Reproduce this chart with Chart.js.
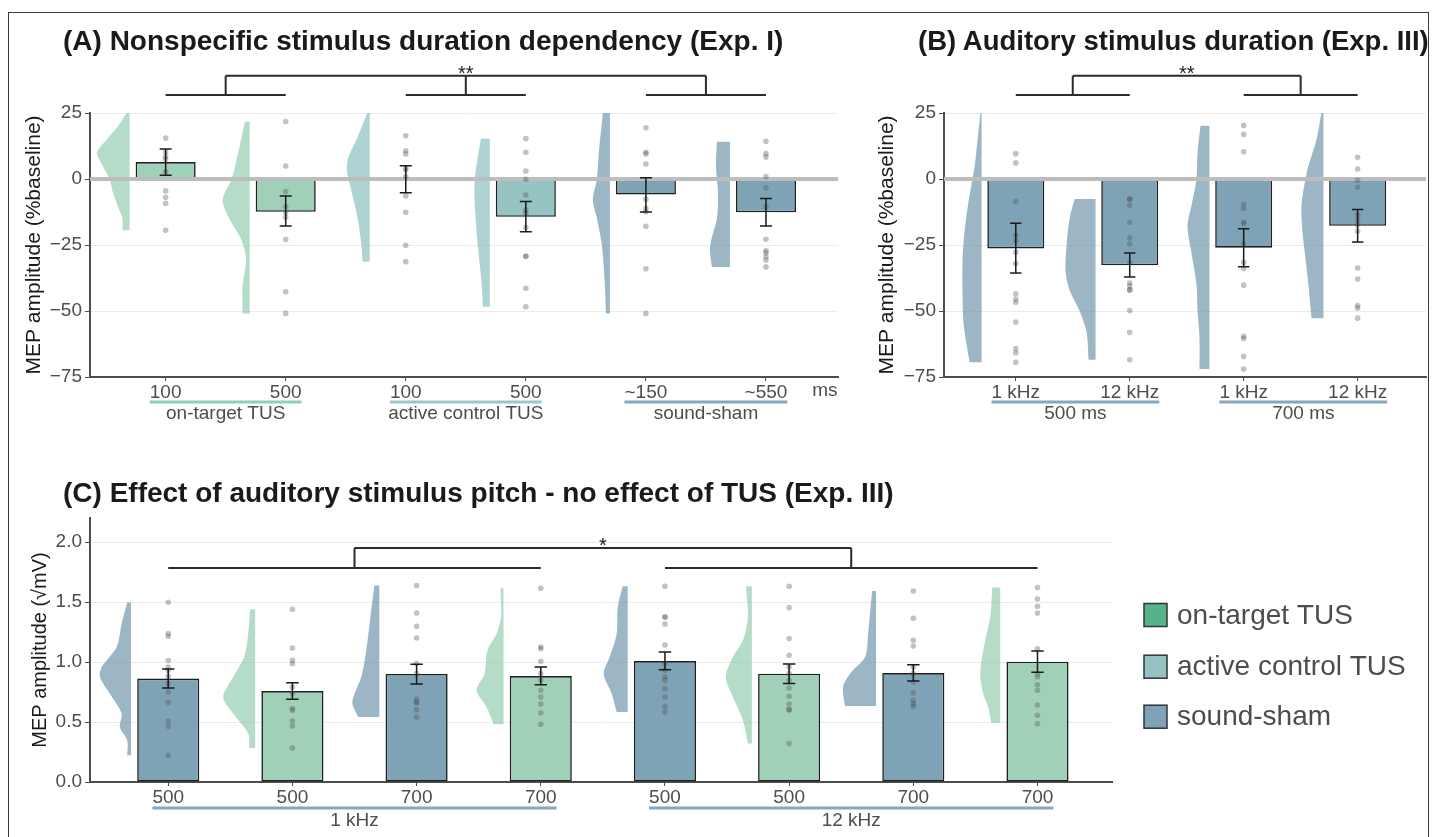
<!DOCTYPE html>
<html>
<head>
<meta charset="utf-8">
<script src="https://cdn.jsdelivr.net/npm/chart.js@4.4.1/dist/chart.umd.min.js"></script>
<style>
  body { margin: 0; width: 1434px; height: 837px; overflow: hidden; background: #fff; position: relative; }
  .frame { position: absolute; left: 8px; top: 12px; width: 1419px; height: 900px; border: 1.5px solid #3a3a3a; border-bottom: none; }
  canvas { position: absolute; }
  .ttl { position: absolute; font: bold 28px/28px "Liberation Sans", Arial, sans-serif; color: #1a1a1a; white-space: nowrap; }
</style>
</head>
<body>
<div class="frame"></div>
<canvas id="chartA" width="845" height="440" style="left:0px;top:0px"></canvas>
<canvas id="chartB" width="574" height="440" style="left:860px;top:0px"></canvas>
<canvas id="chartC" width="1434" height="367" style="left:0px;top:470px"></canvas>
<div class="ttl" style="left:63px;top:27px">(A) Nonspecific stimulus duration dependency (Exp. I)</div>
<div class="ttl" style="left:918px;top:27px;font-size:27.5px">(B) Auditory stimulus duration (Exp. III)</div>
<div class="ttl" style="left:63px;top:479px">(C) Effect of auditory stimulus pitch - no effect of TUS (Exp. III)</div>
<script>
// ---- data: panel A (Exp. I) ----
const catsA = ['100', '500', '100', '500', '~150', '~550'];
const condA = ['on', 'on', 'ac', 'ac', 'sh', 'sh'];
const meanA = [6.4, -12.4, 0.3, -14.3, -5.9, -12.6];
const loA = [1.4, -17.8, -5.2, -20.0, -12.5, -17.8];
const hiA = [11.4, -6.4, 5.0, -8.5, 0.5, -7.4];
const ptsA = [
  [15.5, 10.2, 8.5, 7.5, 2.8, -4.5, -6.9, -9.2, -19.4],
  [21.8, 4.9, -4.8, -10.5, -12.8, -14.5, -22.9, -42.7, -50.9],
  [16.4, 10.7, 9.5, 4.2, 3.4, 0.9, -6.4, -12.6, -25.1, -31.3],
  [15.3, 10.1, 3.0, -0.1, -6.1, -11.7, -13, -18.4, -29.3, -29.3, -41.4, -48.4],
  [19.4, 10.1, 9.5, 5.7, -7.7, -11.1, -12.4, -17.9, -34, -50.9],
  [14.3, 9.6, 8.3, 0.9, -3.3, -10.5, -22.8, -27.2, -27.9, -29.4, -30.7, -33.3]
];
// half-violin profiles: [value, half width in category units]
const violA = [
  [[25, 0.025], [19.8, 0.10], [15, 0.19], [10, 0.27], [5, 0.225], [0, 0.167], [-5, 0.14], [-10, 0.10], [-15, 0.06], [-19.4, 0.06]],
  [[21.8, 0.04], [7, 0.11], [0, 0.15], [-8, 0.225], [-15, 0.17], [-23, 0.07], [-30.5, 0.03], [-40.6, 0.06], [-48, 0.06], [-50.9, 0.06]],
  [[25, 0.02], [15, 0.11], [8, 0.18], [3, 0.19], [-5, 0.15], [-15, 0.10], [-25, 0.07], [-31.3, 0.06]],
  [[15.2, 0.075], [0, 0.125], [-10, 0.125], [-25, 0.10], [-40, 0.067], [-48.4, 0.058]],
  [[25, 0.058], [10, 0.092], [0, 0.108], [-8, 0.142], [-15, 0.108], [-25, 0.067], [-40, 0.042], [-50.9, 0.033]],
  [[14.1, 0.108], [5, 0.117], [-5, 0.10], [-15, 0.108], [-22, 0.15], [-27, 0.167], [-33.3, 0.15]]
];

// ---- data: panel B (Exp. III, duration) ----
const catsB = ['1 kHz', '12 kHz', '1 kHz', '12 kHz'];
const condB = ['sh', 'sh', 'sh', 'sh'];
const meanB = [-26.3, -32.7, -26.0, -17.7];
const loB = [-35.6, -37.1, -33.2, -23.9];
const hiB = [-16.8, -28.0, -18.8, -11.6];
const ptsB = [
  [9.6, 6.1, -8.4, -21.3, -23.3, -27.7, -32, -43.5, -45.5, -46.7, -54.2, -64.2, -65.8, -69.4],
  [-7.6, -7.6, -9.9, -16.4, -22.3, -24.6, -31.7, -39.4, -40.5, -42, -42, -49.8, -58.1, -68.5],
  [20.3, 16.9, 10.3, -9.6, -11.1, -16.3, -16.9, -24.5, -31.6, -33.9, -40.2, -59.6, -60.4, -67.2, -72.0],
  [8.2, 3.8, -0.5, -3.1, -13.5, -15.4, -17.3, -19.8, -33.7, -37.9, -47.9, -48.9, -52.7]
];
const violB = [
  [[25, 0.01], [15, 0.035], [5, 0.06], [0, 0.08], [-10, 0.12], [-20, 0.15], [-30, 0.167], [-45, 0.167], [-55, 0.158], [-65, 0.123], [-69.4, 0.105]],
  [[-7.6, 0.184], [-15, 0.228], [-25, 0.254], [-35, 0.263], [-42, 0.228], [-50, 0.14], [-58, 0.079], [-68.5, 0.061]],
  [[20.2, 0.079], [10, 0.105], [0, 0.114], [-10, 0.158], [-18, 0.193], [-28, 0.158], [-40, 0.114], [-50, 0.105], [-60, 0.088], [-72, 0.088]],
  [[25, 0.018], [15, 0.061], [5, 0.132], [0, 0.158], [-10, 0.193], [-20, 0.184], [-30, 0.158], [-40, 0.132], [-52.7, 0.105]]
];

// ---- data: panel C (Exp. III, pitch) ----
const catsC = ['500', '500', '700', '700', '500', '500', '700', '700'];
const condC = ['sh', 'on', 'sh', 'on', 'sh', 'on', 'sh', 'on'];
const meanC = [0.862, 0.758, 0.900, 0.883, 1.008, 0.903, 0.908, 1.003];
const loC = [0.783, 0.689, 0.817, 0.811, 0.936, 0.820, 0.842, 0.914];
const hiC = [0.942, 0.828, 0.981, 0.958, 1.083, 0.983, 0.978, 1.092];
const ptsC = [
  [1.497, 1.237, 1.214, 1.012, 0.958, 0.931, 0.881, 0.82, 0.75, 0.662, 0.508, 0.464, 0.222],
  [1.439, 1.117, 1.014, 0.986, 0.792, 0.737, 0.612, 0.597, 0.508, 0.467, 0.283],
  [1.637, 1.408, 1.297, 1.2, 0.987, 0.903, 0.689, 0.662, 0.662, 0.603, 0.542],
  [1.614, 1.125, 1.111, 1.006, 0.903, 0.847, 0.764, 0.708, 0.65, 0.575, 0.481],
  [1.631, 1.375, 1.375, 1.317, 1.142, 0.987, 0.931, 0.875, 0.847, 0.778, 0.708, 0.631, 0.583],
  [1.631, 1.453, 1.195, 1.056, 0.958, 0.903, 0.847, 0.783, 0.714, 0.65, 0.603, 0.603, 0.32],
  [1.592, 1.364, 1.181, 1.133, 0.958, 0.903, 0.833, 0.742, 0.681, 0.653, 0.631],
  [1.62, 1.525, 1.464, 1.408, 1.111, 0.903, 0.875, 0.811, 0.764, 0.642, 0.556, 0.486]
];
const violC = [
  [[1.495, 0.03], [1.32, 0.075], [1.125, 0.115], [0.958, 0.235], [0.875, 0.25], [0.736, 0.17], [0.57, 0.075], [0.458, 0.09], [0.347, 0.03], [0.222, 0.03]],
  [[1.439, 0.04], [1.236, 0.056], [1.042, 0.089], [0.875, 0.177], [0.708, 0.258], [0.57, 0.177], [0.403, 0.056], [0.283, 0.048]],
  [[1.637, 0.04], [1.375, 0.072], [1.1, 0.105], [0.875, 0.145], [0.736, 0.2], [0.653, 0.217], [0.542, 0.17]],
  [[1.614, 0.025], [1.375, 0.02], [1.236, 0.056], [1.1, 0.129], [0.903, 0.153], [0.764, 0.217], [0.625, 0.137], [0.481, 0.08]],
  [[1.631, 0.04], [1.458, 0.08], [1.236, 0.089], [1.042, 0.145], [0.903, 0.193], [0.736, 0.129], [0.583, 0.089]],
  [[1.631, 0.048], [1.375, 0.032], [1.181, 0.072], [1.042, 0.153], [0.875, 0.21], [0.708, 0.153], [0.514, 0.072], [0.32, 0.032]],
  [[1.592, 0.032], [1.236, 0.064], [1.042, 0.089], [0.903, 0.21], [0.792, 0.266], [0.633, 0.25]],
  [[1.62, 0.064], [1.375, 0.08], [1.181, 0.121], [0.903, 0.161], [0.736, 0.137], [0.625, 0.097], [0.494, 0.072]]
];

const legendLabels = ['on-target TUS', 'active control TUS', 'sound-sham'];

// colours
const barCol = { on: '#a0d0b8', ac: '#96c4c4', sh: '#7fa3b6' };
const violCol = { on: 'rgba(130,196,164,0.6)', ac: 'rgba(130,187,187,0.65)', sh: 'rgba(110,147,170,0.68)' };
const keyCol = { on: '#55b38a', ac: '#95c3c3', sh: '#7fa3b6' };
const lineCol = { on: '#8fcfb2', ac: '#9ac7c9', sh: '#86a8bc' };

Chart.defaults.font.family = '"Liberation Sans", Arial, sans-serif';
Chart.defaults.color = '#4d4d4d';
Chart.defaults.animation = false;

// half violin: flat right edge sits 0.3 units left of the category;
// first and last profile points are doubled so the flat ends stay straight
function violinData(i, prof) {
  const edge = i - 0.3;
  const last = prof.length - 1;
  const pts = [{ x: edge, y: prof[0][0] }];
  prof.forEach(([v, w], k) => {
    pts.push({ x: edge - w, y: v });
    if (k === 0 || k === last) pts.push({ x: edge - w, y: v });
  });
  pts.push({ x: edge, y: prof[last][0] });
  return pts;
}

const extras = {
  id: 'extras',
  afterDatasetsDraw(chart, args, o) {
    const { ctx, chartArea: ca, scales: { x, y } } = chart;
    ctx.save();
    // error bars
    ctx.strokeStyle = '#1a1a1a';
    ctx.lineWidth = 1.5;
    o.lo.forEach((lo, i) => {
      const px = x.getPixelForValue(i);
      const c = x.getPixelForValue(i + 0.05) - px;
      const y0 = y.getPixelForValue(lo), y1 = y.getPixelForValue(o.hi[i]);
      ctx.beginPath();
      ctx.moveTo(px, y0); ctx.lineTo(px, y1);
      ctx.moveTo(px - c, y0); ctx.lineTo(px + c, y0);
      ctx.moveTo(px - c, y1); ctx.lineTo(px + c, y1);
      ctx.stroke();
    });
    // significance brackets
    const b = o.brackets;
    const yl = y.getPixelForValue(b.low), yh = y.getPixelForValue(b.high);
    ctx.strokeStyle = '#2b2b2b';
    ctx.lineWidth = 2;
    ctx.beginPath();
    b.pairs.forEach(([a, c]) => { ctx.moveTo(x.getPixelForValue(a), yl); ctx.lineTo(x.getPixelForValue(c), yl); });
    ctx.moveTo(x.getPixelForValue(b.span[0]), yh); ctx.lineTo(x.getPixelForValue(b.span[1]), yh);
    b.drops.forEach(d => { ctx.moveTo(x.getPixelForValue(d), yh); ctx.lineTo(x.getPixelForValue(d), yl); });
    ctx.stroke();
    ctx.fillStyle = '#1a1a1a';
    ctx.font = '20px "Liberation Sans", Arial, sans-serif';
    ctx.textAlign = 'center';
    ctx.textBaseline = 'alphabetic';
    ctx.fillText(b.star, x.getPixelForValue(b.starAt), yh + 4);
    // group underlines and labels
    ctx.font = '19px "Liberation Sans", Arial, sans-serif';
    ctx.textBaseline = 'middle';
    ctx.lineWidth = 3;
    o.groups.forEach(g => {
      const x0 = x.getPixelForValue(g.from) - ctx.measureText(o.cats[g.from]).width / 2;
      const x1 = x.getPixelForValue(g.to) + ctx.measureText(o.cats[g.to]).width / 2;
      ctx.strokeStyle = g.color;
      ctx.beginPath();
      ctx.moveTo(x0, ca.bottom + o.lineGap); ctx.lineTo(x1, ca.bottom + o.lineGap);
      ctx.stroke();
      ctx.fillStyle = '#4d4d4d';
      ctx.fillText(g.label, (x0 + x1) / 2, ca.bottom + o.labelGap);
    });
    if (o.unit) ctx.fillText(o.unit.text, x.getPixelForValue(o.unit.at), ca.bottom + o.unitGap);
    // legend
    if (o.legend) {
      const L = o.legend;
      ctx.font = '28px "Liberation Sans", Arial, sans-serif';
      ctx.textAlign = 'left';
      L.labels.forEach((t, i) => {
        ctx.fillStyle = keyCol[L.cond[i]];
        ctx.fillRect(L.x, L.ys[i] - 11.5, 23, 23);
        ctx.strokeStyle = '#333';
        ctx.lineWidth = 1.5;
        ctx.strokeRect(L.x, L.ys[i] - 11.5, 23, 23);
        ctx.fillStyle = '#4d4d4d';
        ctx.fillText(t, L.x + 33, L.ys[i] + 1);
      });
    }
    ctx.restore();
  }
};

function panel(id, o) {
  const n = o.cats.length;
  const xmax = n - 0.4;
  const datasets = [];
  o.viol.forEach((prof, i) => datasets.push({
    type: 'line', data: violinData(i, prof), fill: 'shape',
    backgroundColor: violCol[o.cond[i]], borderColor: 'rgba(0,0,0,0)', borderWidth: 0,
    pointRadius: 0, tension: 0.3, order: 5
  }));
  datasets.push({
    type: 'bar', data: o.mean.map((m, i) => ({ x: i, y: m })),
    backgroundColor: o.cond.map(c => barCol[c]), borderColor: '#1f1f1f', borderWidth: 1.6,
    borderSkipped: false, barPercentage: 0.5, categoryPercentage: 1, order: 4
  });
  if (o.zero) datasets.push({
    type: 'line', data: [{ x: -0.63, y: 0 }, { x: xmax, y: 0 }],
    borderColor: '#bdbdbd', borderWidth: 4, pointRadius: 0, order: 3
  });
  datasets.push({
    type: 'scatter', data: o.pts.flatMap((a, i) => a.map(v => ({ x: i, y: v }))),
    pointRadius: 2.8, backgroundColor: 'rgba(80,80,80,0.35)', borderWidth: 0, order: 1
  });

  new Chart(document.getElementById(id), {
    type: 'bar',
    data: { datasets },
    plugins: [extras],
    options: {
      responsive: false,
      layout: { padding: o.pad },
      plugins: {
        legend: { display: false },
        tooltip: { enabled: false },
        extras: o.extras
      },
      scales: {
        x: {
          type: 'linear', min: -0.63, max: xmax, offset: false,
          afterBuildTicks: s => { s.ticks = o.cats.map((c, i) => ({ value: i })); },
          afterFit: s => { s.height = o.xh; },
          ticks: { callback: v => o.cats[v], font: { size: 19 }, color: '#4d4d4d', padding: 0, maxRotation: 0, autoSkip: false },
          grid: { drawOnChartArea: false, offset: false, tickColor: '#4d4d4d', tickLength: 4 },
          border: { color: '#4d4d4d', width: 2 }
        },
        y: {
          min: o.ymin, max: o.ymax,
          afterFit: s => { s.width = o.yw; },
          ticks: { stepSize: o.step, includeBounds: false, font: { size: 19 }, color: '#4d4d4d', padding: 3, callback: o.fmt },
          grid: { color: c => (c.tick && c.tick.value === 0) ? 'rgba(0,0,0,0)' : '#ebebeb', tickColor: '#4d4d4d', tickLength: 5 },
          border: { color: '#4d4d4d', width: 2 },
          title: { display: true, text: o.ytitle, font: { size: o.ytsize }, color: '#1a1a1a' }
        }
      }
    }
  });
}

const pctFmt = v => (v < 0 ? '\u2212' : '') + Math.abs(v);

panel('chartA', {
  cats: catsA, cond: condA, mean: meanA, pts: ptsA, viol: violA, zero: true,
  ymin: -75, ymax: 25, step: 25, fmt: pctFmt, ytitle: 'MEP amplitude (%baseline)', ytsize: 21,
  pad: { left: 18, top: 113, right: 7, bottom: 0 }, yw: 72, xh: 63,
  extras: {
    cats: catsA, lo: loA, hi: hiA, lineGap: 25, labelGap: 37, unitGap: 14,
    unit: { text: 'ms', at: 5.49 },
    groups: [
      { label: 'on-target TUS', from: 0, to: 1, color: lineCol.on },
      { label: 'active control TUS', from: 2, to: 3, color: lineCol.ac },
      { label: 'sound-sham', from: 4, to: 5, color: lineCol.sh }
    ],
    brackets: { low: 31.8, high: 39.1, pairs: [[0, 1], [2, 3], [4, 5]], span: [0.5, 4.5], drops: [0.5, 2.5, 4.5], star: '**', starAt: 2.5 }
  }
});

panel('chartB', {
  cats: catsB, cond: condB, mean: meanB, pts: ptsB, viol: violB, zero: true,
  ymin: -75, ymax: 25, step: 25, fmt: pctFmt, ytitle: 'MEP amplitude (%baseline)', ytsize: 21,
  pad: { left: 11, top: 113, right: 8, bottom: 0 }, yw: 73, xh: 63,
  extras: {
    cats: catsB, lo: loB, hi: hiB, lineGap: 25, labelGap: 37,
    groups: [
      { label: '500 ms', from: 0, to: 1, color: lineCol.sh },
      { label: '700 ms', from: 2, to: 3, color: lineCol.sh }
    ],
    brackets: { low: 31.8, high: 39.1, pairs: [[0, 1], [2, 3]], span: [0.5, 2.5], drops: [0.5, 2.5], star: '**', starAt: 1.5 }
  }
});

panel('chartC', {
  cats: catsC, cond: condC, mean: meanC, pts: ptsC, viol: violC, zero: false,
  ymin: 0, ymax: 2.2, step: 0.5, fmt: v => v.toFixed(1), ytitle: 'MEP amplitude (\u221AmV)', ytsize: 20,
  pad: { left: 24, top: 48, right: 322, bottom: 0 }, yw: 66, xh: 55,
  extras: {
    cats: catsC, lo: loC, hi: hiC, lineGap: 26, labelGap: 39,
    groups: [
      { label: '1 kHz', from: 0, to: 3, color: lineCol.sh },
      { label: '12 kHz', from: 4, to: 7, color: lineCol.sh }
    ],
    brackets: { low: 1.783, high: 1.95, pairs: [[0, 3], [4, 7]], span: [1.5, 5.5], drops: [1.5, 5.5], star: '*', starAt: 3.5 },
    legend: { labels: legendLabels, cond: ['on', 'ac', 'sh'], x: 1144, ys: [145, 196.7, 246.7] }
  }
});
</script>
</body>
</html>
